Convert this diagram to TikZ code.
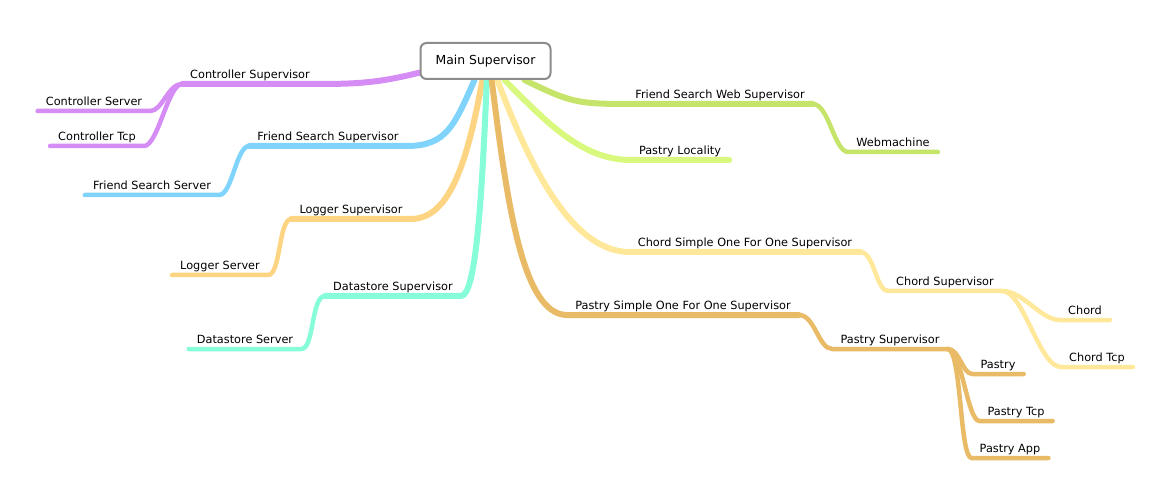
\documentclass[tikz,border=0pt]{standalone}
\usepackage{fontspec}
\setmainfont{DejaVu Sans}
\usetikzlibrary{backgrounds}
\definecolor{ctrlc}{HTML}{D68CF5}
\definecolor{fsc}{HTML}{80D4FC}
\definecolor{logc}{HTML}{FDD482}
\definecolor{dsc}{HTML}{86FCD8}
\definecolor{webc}{HTML}{C6E46A}
\definecolor{locc}{HTML}{D8F87E}
\definecolor{chordc}{HTML}{FFE89A}
\definecolor{pastryc}{HTML}{E9BB66}
\definecolor{boxgray}{HTML}{8C8C8C}

\begin{document}
\begin{tikzpicture}[x=1pt, y=-1pt,
    font=\fontsize{11.3}{13}\selectfont,
    topic/.style={anchor=south, inner xsep=8pt, inner ysep=0pt, text height=8.5pt, text depth=5pt},
    branch/.style={draw=#1, line width=6pt, line cap=round},
    twig/.style={draw=#1, line width=4.5pt, line cap=round}]
\useasboundingbox (0,0) rectangle (1174,502);

%root
\node[draw=boxgray, line width=2pt, rounded corners=6pt, fill=white,
      minimum width=130pt, minimum height=36pt, inner sep=0pt,
      font=\fontsize{12.4}{14}\selectfont] (main) at (485.5,61) {Main Supervisor};

%left side
\node[topic] (ctrlsup) at (250,84) {Controller Supervisor};
\node[topic] (ctrlsrv) at (94,111) {Controller Server};
\node[topic] (ctrltcp) at (97,146) {Controller Tcp};
\node[topic] (fssup) at (328,146) {Friend Search Supervisor};
\node[topic] (fssrv) at (152,195) {Friend Search Server};
\node[topic] (logsup) at (351,219) {Logger Supervisor};
\node[topic] (logsrv) at (220,275) {Logger Server};
\node[topic] (dssup) at (393,296) {Datastore Supervisor};
\node[topic] (dssrv) at (245,349) {Datastore Server};

%right side
\node[topic] (websup) at (720,104) {Friend Search Web Supervisor};
\node[topic] (webm) at (893,152) {Webmachine};
\node[topic] (ploc) at (680,160) {Pastry Locality};
\node[topic] (chordsoso) at (745,252) {Chord Simple One For One Supervisor};
\node[topic] (chordsup) at (945,291) {Chord Supervisor};
\node[topic] (chord) at (1085,320) {Chord};
\node[topic] (chordtcp) at (1097,367) {Chord Tcp};
\node[topic] (pastrysoso) at (683,315) {Pastry Simple One For One Supervisor};
\node[topic] (pastrysup) at (890,349) {Pastry Supervisor};
\node[topic] (pastry) at (998,374) {Pastry};
\node[topic] (pastrytcp) at (1016,421) {Pastry Tcp};
\node[topic] (pastryapp) at (1010,458) {Pastry App};

\begin{scope}[on background layer]
  % main branches
  \draw[branch=ctrlc] (main.190) .. controls +(-40,10) and +(40,0) .. (ctrlsup.south east) -- (ctrlsup.south west);
  \draw[branch=fsc] (main.240) .. controls +(-20,45) and +(40,0) .. (fssup.south east) -- (fssup.south west);
  \draw[branch=logc] (main.261) .. controls +(-15,80) and +(40,0) .. (logsup.south east) -- (logsup.south west);
  \draw[branch=dsc] (main.274) .. controls +(-5,120) and +(15,0) .. (dssup.south east) -- (dssup.south west);
  \draw[branch=pastryc] (main.288) .. controls +(15,120) and +(-45,0) .. (pastrysoso.south west) -- (pastrysoso.south east);
  \draw[branch=chordc] (main.302) .. controls +(30,80) and +(-60,0) .. (chordsoso.south west) -- (chordsoso.south east);
  \draw[branch=locc] (main.315) .. controls +(40,40) and +(-50,0) .. (ploc.south west) -- (ploc.south east);
  \draw[branch=webc] (main.334) .. controls +(45,22) and +(-50,0) .. (websup.south west) -- (websup.south east);
  % sub branches
  \draw[twig=ctrlc] (ctrlsup.south west) .. controls +(-14,0) and +(12,0) .. (ctrlsrv.south east) -- (ctrlsrv.south west);
  \draw[twig=ctrlc] (ctrlsup.south west) .. controls +(-14,0) and +(14,0) .. (ctrltcp.south east) -- (ctrltcp.south west);
  \draw[twig=fsc] (fssup.south west) .. controls +(-13,0) and +(13,0) .. (fssrv.south east) -- (fssrv.south west);
  \draw[twig=logc] (logsup.south west) .. controls +(-13,0) and +(13,0) .. (logsrv.south east) -- (logsrv.south west);
  \draw[twig=dsc] (dssup.south west) .. controls +(-14,0) and +(13,0) .. (dssrv.south east) -- (dssrv.south west);
  \draw[twig=webc] (websup.south east) .. controls +(16,0) and +(-14,0) .. (webm.south west) -- (webm.south east);
  \draw[twig=chordc] (chordsoso.south east) .. controls +(14,0) and +(-12,0) .. (chordsup.south west) -- (chordsup.south east);
  \draw[twig=chordc] (chordsup.south east) .. controls +(22,0) and +(-20,0) .. (chord.south west) -- (chord.south east);
  \draw[twig=chordc] (chordsup.south east) .. controls +(22,0) and +(-22,0) .. (chordtcp.south west) -- (chordtcp.south east);
  \draw[twig=pastryc] (pastrysoso.south east) .. controls +(16,0) and +(-14,0) .. (pastrysup.south west) -- (pastrysup.south east);
  \draw[twig=pastryc] (pastrysup.south east) .. controls +(12,0) and +(-10,0) .. (pastry.south west) -- (pastry.south east);
  \draw[twig=pastryc] (pastrysup.south east) .. controls +(14,0) and +(-12,0) .. (pastrytcp.south west) -- (pastrytcp.south east);
  \draw[twig=pastryc] (pastrysup.south east) .. controls +(14,0) and +(-12,0) .. (pastryapp.south west) -- (pastryapp.south east);
\end{scope}
\end{tikzpicture}
\end{document}
